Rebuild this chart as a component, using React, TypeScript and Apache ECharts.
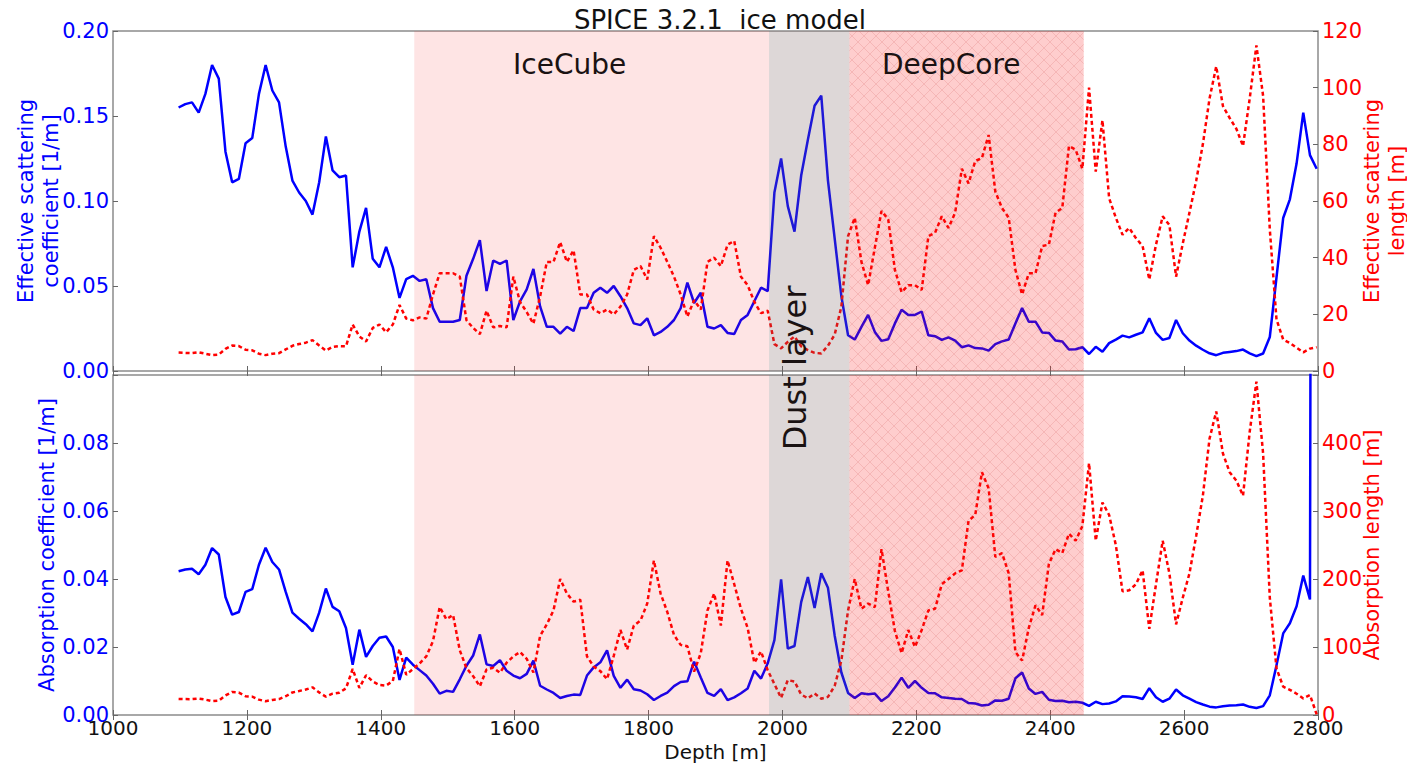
import React, { useEffect, useRef } from 'react';
import * as echarts from 'echarts';

// Depth grid (m) of the ice layers
const DEPTH = [
  1098, 1108, 1118, 1128, 1138, 1148, 1158, 1168, 1178, 1188,
  1198, 1208, 1218, 1228, 1238, 1248, 1258, 1268, 1278, 1288,
  1298, 1308, 1318, 1328, 1338, 1348, 1358, 1368, 1378, 1388,
  1398, 1408, 1418, 1428, 1438, 1448, 1458, 1468, 1478, 1488,
  1498, 1508, 1518, 1528, 1538, 1548, 1558, 1568, 1578, 1588,
  1598, 1608, 1618, 1628, 1638, 1648, 1658, 1668, 1678, 1688,
  1698, 1708, 1718, 1728, 1738, 1748, 1758, 1768, 1778, 1788,
  1798, 1808, 1818, 1828, 1838, 1848, 1858, 1868, 1878, 1888,
  1898, 1908, 1918, 1928, 1938, 1948, 1958, 1968, 1978, 1988,
  1998, 2008, 2018, 2028, 2038, 2048, 2058, 2068, 2078, 2088,
  2098, 2108, 2118, 2128, 2138, 2148, 2158, 2168, 2178, 2188,
  2198, 2208, 2218, 2228, 2238, 2248, 2258, 2268, 2278, 2288,
  2298, 2308, 2318, 2328, 2338, 2348, 2358, 2368, 2378, 2388,
  2398, 2408, 2418, 2428, 2438, 2448, 2458, 2468, 2478, 2488,
  2498, 2508, 2518, 2528, 2538, 2548, 2558, 2568, 2578, 2588,
  2598, 2608, 2618, 2628, 2638, 2648, 2658, 2668, 2678, 2688,
  2698, 2708, 2718, 2728, 2738, 2748, 2758, 2768, 2778, 2788,
  2798,
];

// Effective scattering coefficient [1/m]
const SCAT_COEF = [
  0.155, 0.157, 0.158, 0.152, 0.163, 0.180, 0.172, 0.129, 0.111, 0.113,
  0.134, 0.137, 0.163, 0.180, 0.165, 0.158, 0.132, 0.112, 0.105, 0.100,
  0.092, 0.111, 0.138, 0.118, 0.114, 0.115, 0.061, 0.082, 0.096, 0.066,
  0.061, 0.073, 0.061, 0.043, 0.054, 0.056, 0.053, 0.054, 0.037, 0.029,
  0.029, 0.029, 0.030, 0.056, 0.066, 0.077, 0.047, 0.065, 0.063, 0.065,
  0.030, 0.041, 0.048, 0.060, 0.038, 0.026, 0.026, 0.022, 0.026, 0.0235,
  0.037, 0.037, 0.046, 0.049, 0.046, 0.050, 0.044, 0.037, 0.028, 0.027,
  0.031, 0.021, 0.023, 0.026, 0.030, 0.037, 0.052, 0.040, 0.046, 0.026,
  0.025, 0.027, 0.0224, 0.0218, 0.030, 0.033, 0.041, 0.049, 0.047, 0.105,
  0.125, 0.097, 0.082, 0.115, 0.136, 0.156, 0.162, 0.112, 0.078, 0.044,
  0.021, 0.0185, 0.026, 0.033, 0.023, 0.0177, 0.0187, 0.028, 0.036, 0.033,
  0.033, 0.035, 0.021, 0.0205, 0.0183, 0.0198, 0.0179, 0.0140, 0.0151, 0.0135,
  0.0133, 0.0120, 0.0158, 0.0174, 0.0185, 0.028, 0.037, 0.029, 0.029, 0.0227,
  0.0224, 0.0179, 0.0174, 0.0126, 0.0128, 0.0140, 0.0100, 0.0142, 0.0113, 0.0164,
  0.0185, 0.0208, 0.0198, 0.0213, 0.0227, 0.031, 0.0224, 0.0183, 0.0194, 0.030,
  0.0222, 0.0179, 0.0149, 0.0125, 0.0104, 0.0093, 0.0107, 0.0112, 0.0117, 0.0126,
  0.0104, 0.0087, 0.0103, 0.020, 0.055, 0.090, 0.101, 0.122, 0.152, 0.127,
  0.119,
];

// Effective scattering length [m]
const SCAT_LEN = [
  6.5, 6.4, 6.3, 6.6, 6.1, 5.6, 5.8, 7.8, 9.0, 8.8,
  7.5, 7.3, 6.1, 5.6, 6.1, 6.3, 7.6, 8.9, 9.5, 10.0,
  10.9, 9.0, 7.2, 8.5, 8.8, 8.7, 16.4, 12.2, 10.4, 15.2,
  16.4, 13.7, 16.4, 23.3, 18.5, 17.9, 18.9, 18.5, 27.0, 34.5,
  34.5, 34.5, 33.3, 17.9, 15.2, 13.0, 21.3, 15.4, 15.9, 15.4,
  33.3, 24.4, 20.8, 16.7, 26.3, 38.5, 38.5, 45.5, 38.5, 42.6,
  27.0, 27.0, 21.7, 20.4, 21.7, 20.0, 22.7, 27.0, 35.7, 37.0,
  32.3, 47.6, 43.5, 38.5, 33.3, 27.0, 19.2, 25.0, 21.7, 38.5,
  40.0, 37.0, 44.6, 45.9, 33.3, 30.3, 24.4, 20.4, 21.3, 9.5,
  8.0, 10.3, 12.2, 8.7, 7.4, 6.4, 6.2, 8.9, 12.8, 22.7,
  47.6, 54.1, 38.5, 30.3, 43.5, 56.5, 53.5, 35.7, 27.8, 30.3,
  30.3, 28.6, 47.6, 48.8, 54.6, 50.5, 55.9, 71.4, 66.2, 74.1,
  75.2, 83.3, 63.3, 57.5, 54.1, 35.7, 27.0, 34.5, 34.5, 44.1,
  44.6, 55.9, 57.5, 79.4, 78.1, 71.4, 100.0, 70.4, 88.5, 61.0,
  54.1, 48.1, 50.5, 46.9, 44.1, 32.3, 44.6, 54.6, 51.5, 33.3,
  45.0, 55.9, 67.1, 80.0, 96.2, 107.5, 93.5, 89.3, 85.5, 79.4,
  96.2, 114.9, 97.1, 50.0, 18.2, 11.1, 9.9, 8.2, 6.6, 7.9,
  8.4,
];

// Absorption coefficient [1/m]
const ABS_COEF = [
  0.0423, 0.0428, 0.0430, 0.0414, 0.0442, 0.0491, 0.0472, 0.0347, 0.0295, 0.0303,
  0.0362, 0.0370, 0.0442, 0.0492, 0.0450, 0.0428, 0.0362, 0.0301, 0.0283, 0.0267,
  0.0246, 0.0301, 0.0372, 0.0318, 0.0305, 0.0256, 0.0148, 0.0251, 0.0171, 0.0203,
  0.0227, 0.0231, 0.0200, 0.0103, 0.0169, 0.0148, 0.0132, 0.0116, 0.0092, 0.0063,
  0.0071, 0.0068, 0.0105, 0.0145, 0.0175, 0.0237, 0.0149, 0.0144, 0.0161, 0.0130,
  0.0116, 0.0108, 0.0121, 0.0160, 0.0086, 0.0075, 0.0065, 0.0050, 0.0056, 0.0060,
  0.0059, 0.0116, 0.0140, 0.0155, 0.0190, 0.0115, 0.0080, 0.0104, 0.0076, 0.0072,
  0.0061, 0.0044, 0.0056, 0.0066, 0.0085, 0.0097, 0.0099, 0.0157, 0.0110, 0.0065,
  0.0056, 0.0076, 0.0044, 0.0052, 0.0064, 0.0078, 0.0130, 0.0107, 0.0152, 0.0220,
  0.0399, 0.0195, 0.0203, 0.0332, 0.0406, 0.0315, 0.0417, 0.0374, 0.0234, 0.0125,
  0.0065, 0.0050, 0.0064, 0.0061, 0.0063, 0.0041, 0.0055, 0.0081, 0.0110, 0.0080,
  0.0100, 0.0080, 0.0065, 0.0064, 0.0052, 0.0050, 0.0048, 0.0047, 0.0035, 0.0034,
  0.0028, 0.0030, 0.0043, 0.0042, 0.0048, 0.0108, 0.0125, 0.0078, 0.0062, 0.0068,
  0.0045, 0.0041, 0.0042, 0.00375, 0.0039, 0.0036, 0.0027, 0.0039, 0.0032, 0.0034,
  0.0040, 0.0055, 0.00545, 0.0052, 0.0047, 0.0079, 0.0052, 0.0039, 0.0048, 0.0075,
  0.0058, 0.0048, 0.0038, 0.0031, 0.00246, 0.00224, 0.0026, 0.0028, 0.0029, 0.0031,
  0.0024, 0.00204, 0.0026, 0.0058, 0.0146, 0.0240, 0.0270, 0.0320, 0.0410, 0.0340,
  1.0,
];

// Absorption length [m]
const ABS_LEN = [
  23.6, 23.4, 23.3, 24.2, 22.6, 20.4, 21.2, 28.8, 33.9, 33.0,
  27.6, 27.0, 22.6, 20.3, 22.2, 23.4, 27.6, 33.2, 35.3, 37.5,
  40.7, 33.2, 26.9, 31.4, 32.8, 39.1, 67.6, 39.8, 58.5, 49.3,
  44.1, 43.3, 50.0, 97.1, 59.2, 67.6, 75.8, 86.2, 108.7, 158.7,
  140.8, 147.1, 95.2, 69.0, 57.1, 42.2, 67.1, 69.4, 62.1, 76.9,
  86.2, 92.6, 82.6, 62.5, 116.3, 133.3, 153.8, 200.0, 178.6, 166.7,
  169.5, 86.2, 71.4, 64.5, 52.6, 87.0, 125.0, 96.2, 131.6, 138.9,
  163.9, 227.3, 178.6, 151.5, 117.6, 103.1, 101.0, 63.7, 90.9, 153.8,
  178.6, 131.6, 227.3, 192.3, 156.3, 128.2, 76.9, 93.5, 65.8, 45.5,
  25.1, 51.3, 49.3, 30.1, 24.6, 31.7, 24.0, 26.7, 42.7, 80.0,
  153.8, 200.0, 156.3, 163.9, 158.7, 243.9, 181.8, 123.5, 90.9, 125.0,
  100.0, 125.0, 153.8, 156.3, 192.3, 200.0, 208.3, 212.8, 285.7, 294.1,
  357.1, 333.3, 232.6, 238.1, 208.3, 92.6, 80.0, 128.2, 161.3, 147.1,
  222.2, 243.9, 238.1, 266.7, 256.4, 277.8, 370.4, 256.4, 312.5, 294.1,
  250.0, 181.8, 183.5, 192.3, 212.8, 126.6, 192.3, 256.4, 208.3, 133.3,
  172.4, 208.3, 263.2, 322.6, 406.5, 446.4, 384.6, 357.1, 344.8, 322.6,
  416.7, 490.2, 384.6, 172.4, 68.5, 41.7, 37.0, 31.3, 24.4, 29.4,
  1.0,
];

// Depth bands [from, to] in m
const REGION_NAMES = ['IceCube', 'Dust layer', 'DeepCore'];
const REGION_FROM = [1450, 1980, 2100];
const REGION_TO = [1980, 2100, 2450];

const FONT = '"DejaVu Sans", "Noto Sans", sans-serif';
const BLUE = '#0000ff';
const RED = '#ff0000';
const REGION_FILL = ['rgba(245,30,30,0.12)', 'rgba(120,95,95,0.25)', 'rgba(250,20,20,0.21)'];

function makeHatch(): string {
  const c = document.createElement('canvas');
  c.width = 12;
  c.height = 12;
  const ctx = c.getContext('2d');
  if (ctx) {
    ctx.strokeStyle = 'rgba(200,60,60,0.16)';
    ctx.lineWidth = 1;
    ctx.beginPath();
    ctx.moveTo(0, 0);
    ctx.lineTo(12, 12);
    ctx.moveTo(12, 0);
    ctx.lineTo(0, 12);
    ctx.stroke();
  }
  return c.toDataURL();
}

export default function App() {
  const ref = useRef<HTMLDivElement>(null);

  useEffect(() => {
    if (!ref.current) return;
    const chart = echarts.init(ref.current, undefined, { renderer: 'svg' });
    const hatch = { image: makeHatch(), repeat: 'repeat', imageWidth: 12, imageHeight: 12 };

    const regionData = REGION_NAMES.map((_, i) => [REGION_FROM[i], 0, REGION_TO[i], i]);

    const regionSeries = (xi: number, yi: number) => ({
      type: 'custom',
      xAxisIndex: xi,
      yAxisIndex: yi,
      silent: true,
      z: 3,
      encode: { x: [0, 2], y: 1 },
      data: regionData,
      renderItem: (params: any, api: any) => {
        const x0 = api.value(0);
        const x1 = api.value(2);
        const kind = api.value(3);
        const p0 = api.coord([x0, 0]);
        const p1 = api.coord([x1, 0]);
        const cs = params.coordSys;
        const shape = { x: p0[0], y: cs.y, width: p1[0] - p0[0], height: cs.height };
        const children: any[] = [{ type: 'rect', shape, style: { fill: REGION_FILL[kind] } }];
        if (kind === 2) children.push({ type: 'rect', shape, style: { fill: hatch } });
        return { type: 'group', children };
      },
    });

    const lineSeries = (name: string, ys: number[], xi: number, yi: number, color: string, dashed: boolean) => ({
      type: 'line',
      name,
      xAxisIndex: xi,
      yAxisIndex: yi,
      data: DEPTH.map((d, i) => [d, ys[i]]),
      showSymbol: false,
      symbol: 'none',
      silent: true,
      clip: true,
      z: 2,
      lineStyle: { color, width: 2.5, type: dashed ? [4, 3] : 'solid' },
      itemStyle: { color },
    });

    const tick = { show: true, inside: true, length: 5, lineStyle: { color: '#666', width: 1 } };
    const xBase = {
      type: 'value',
      min: 1000,
      max: 2800,
      interval: 200,
      axisLine: { show: false },
      axisTick: tick,
      splitLine: { show: false },
      axisLabel: { show: false },
    };
    const yLabel = (color: string, fmt: (v: number) => string) => ({
      color,
      fontSize: 21,
      fontFamily: FONT,
      margin: 4,
      formatter: fmt,
    });
    const yName = (color: string) => ({ color, fontSize: 21, lineHeight: 25, fontFamily: FONT });
    const gridBase = {
      left: 113,
      right: 89,
      height: 340,
      show: true,
      borderColor: '#8c8c8c',
      borderWidth: 1.5,
      backgroundColor: 'transparent',
      containLabel: false,
      outerBoundsMode: 'none',
    };

    chart.setOption({
      animation: false,
      backgroundColor: '#ffffff',
      title: {
        text: 'SPICE 3.2.1  ice model',
        left: 715,
        top: 2,
        textAlign: 'center',
        textStyle: { fontSize: 26, fontWeight: 'normal', color: '#111', fontFamily: FONT },
      },
      grid: [
        { ...gridBase, top: 31 },
        { ...gridBase, top: 375 },
      ],
      xAxis: [
        { ...xBase, gridIndex: 0, position: 'bottom' },
        { ...xBase, gridIndex: 0, position: 'top' },
        {
          ...xBase,
          gridIndex: 1,
          position: 'bottom',
          axisLabel: {
            show: true, fontSize: 20, color: '#111', fontFamily: FONT, margin: 3,
            formatter: (v: number) => String(Math.round(v)),
          },
          name: 'Depth [m]',
          nameLocation: 'middle',
          nameGap: 24,
          nameMoveOverlap: false,
          nameTextStyle: { fontSize: 20, color: '#111', fontFamily: FONT, lineHeight: 25 },
        },
        { ...xBase, gridIndex: 1, position: 'top' },
      ],
      yAxis: [
        {
          type: 'value', gridIndex: 0, position: 'left', min: 0, max: 0.2, interval: 0.05,
          axisLine: { show: false }, axisTick: tick, splitLine: { show: false },
          axisLabel: yLabel(BLUE, (v: number) => v.toFixed(2)),
          name: 'Effective scattering\ncoefficient [1/m]', nameLocation: 'middle', nameGap: 50,
          nameMoveOverlap: false,
          nameTextStyle: yName(BLUE),
        },
        {
          type: 'value', gridIndex: 0, position: 'right', min: 0, max: 120, interval: 20,
          axisLine: { show: false }, axisTick: tick, splitLine: { show: false },
          axisLabel: yLabel(RED, (v: number) => String(Math.round(v))),
          name: 'Effective scattering\nlength [m]', nameLocation: 'middle', nameGap: 41,
          nameMoveOverlap: false,
          nameTextStyle: yName(RED),
        },
        {
          type: 'value', gridIndex: 1, position: 'left', min: 0, max: 0.1, interval: 0.02,
          axisLine: { show: false }, axisTick: tick, splitLine: { show: false },
          axisLabel: yLabel(BLUE, (v: number) => (v > 0.09 ? '' : v.toFixed(2))),
          name: 'Absorption coefficient [1/m]', nameLocation: 'middle', nameGap: 54,
          nameMoveOverlap: false,
          nameTextStyle: yName(BLUE),
        },
        {
          type: 'value', gridIndex: 1, position: 'right', min: 0, max: 500, interval: 100,
          axisLine: { show: false }, axisTick: tick, splitLine: { show: false },
          axisLabel: yLabel(RED, (v: number) => (v >= 500 ? '' : String(Math.round(v)))),
          name: 'Absorption length [m]', nameLocation: 'middle', nameGap: 41,
          nameMoveOverlap: false,
          nameTextStyle: yName(RED),
        },
      ],
      series: [
        lineSeries('Effective scattering coefficient', SCAT_COEF, 0, 0, BLUE, false),
        lineSeries('Effective scattering length', SCAT_LEN, 0, 1, RED, true),
        lineSeries('Absorption coefficient', ABS_COEF, 2, 2, BLUE, false),
        lineSeries('Absorption length', ABS_LEN, 2, 3, RED, true),
        regionSeries(0, 0),
        regionSeries(2, 2),
      ],
      graphic: [
        {
          type: 'text', x: 513, y: 64, z: 100, silent: true,
          style: { text: REGION_NAMES[0], fontSize: 28, fontFamily: FONT, fill: '#1a1212', textAlign: 'left', textVerticalAlign: 'middle' },
        },
        {
          type: 'text', x: 882, y: 64, z: 100, silent: true,
          style: { text: REGION_NAMES[2], fontSize: 28, fontFamily: FONT, fill: '#1a1212', textAlign: 'left', textVerticalAlign: 'middle' },
        },
        {
          type: 'text', x: 795, y: 368, z: 100, rotation: Math.PI / 2, silent: true,
          style: { text: REGION_NAMES[1], fontSize: 32, fontFamily: FONT, fill: '#1a1212', textAlign: 'center', textVerticalAlign: 'middle' },
        },
      ],
    });

    return () => chart.dispose();
  }, []);

  return (
    <div
      ref={ref}
      style={{ position: 'fixed', left: 0, top: 0, width: 1407, height: 766, background: '#fff' }}
    />
  );
}
